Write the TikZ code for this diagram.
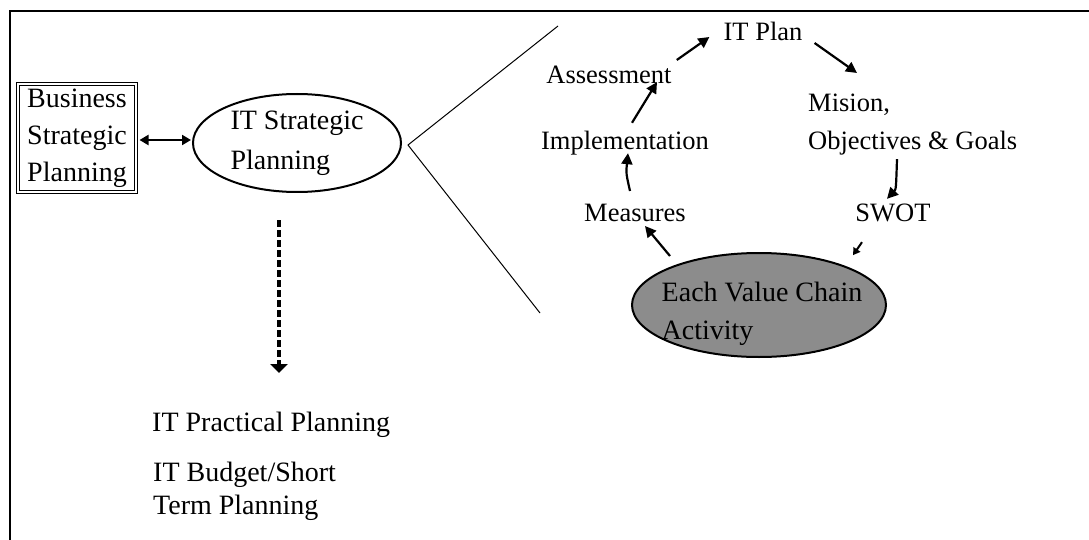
\documentclass[tikz,border=0pt]{standalone}
\usepackage{fontspec}
\setmainfont{Liberation Serif}
\usetikzlibrary{arrows.meta,calc,shapes.geometric}
\tikzset{
  lbl/.style={inner sep=0pt, font=\fontsize{28}{38}\selectfont},
  rlbl/.style={inner sep=0pt, font=\fontsize{26.5}{38}\selectfont},
  arr/.style={line width=2.2pt, -{Triangle[length=11pt,width=11pt]}},
  thinline/.style={line width=1pt},
}
\begin{document}
\begin{tikzpicture}[x=1pt,y=-1pt]
\useasboundingbox (0,0) rectangle (1089,540);
\fill[white] (0,0) rectangle (1089,540);
% frame
\draw[line width=1.5pt] (10,540) -- (10,11) -- (1089,11);

% left part
\node[draw, double, line width=1pt, double distance=1.5pt, minimum width=118, minimum height=108,
      align=center, inner sep=1pt, font=\fontsize{28}{37}\selectfont] (bsp) at (77,138)
  {Business\\Strategic\\Planning};
\node[draw, ellipse, line width=2pt, minimum width=208, minimum height=98, inner sep=0pt,
      align=left, font=\fontsize{28}{40}\selectfont] (itsp) at (297,143)
  {IT Strategic\\Planning};
\draw[line width=2pt, {Triangle[length=9pt,width=10pt]}-{Triangle[length=9pt,width=10pt]}]
  ($(bsp.east)+(3,2)$) -- ($(itsp.west)+(-1,-3)$);
\draw[line width=3.5pt, dash pattern=on 7pt off 3pt, -{Triangle[length=9pt,width=17pt]}]
  ($(itsp.south)+(-18,27)$) -- ($(itsp.south)+(-18,180)$) coordinate (dashend);

\node[lbl, anchor=west] (practical) at (152,425) {IT Practical Planning};
\node[lbl, anchor=north west, align=left, font=\fontsize{28}{33}\selectfont] (budget) at (153,462)
  {IT Budget/Short\\Term Planning};

% zoom lines
\coordinate (vtx) at (408,145);
\coordinate (upend) at (558,26);
\coordinate (lowend) at (540,313);
\draw[thinline] (upend) -- (vtx) -- (lowend);

% cycle
\node[rlbl] (itplan) at (763,31) {IT Plan};
\node[rlbl] (assess) at (609,75) {Assessment};
\node[rlbl] (impl) at (625,143) {Implementation};
\node[rlbl, anchor=west] (mision) at (808,105) {Mision,};
\node[rlbl, anchor=west] (obj) at (808,143) {Objectives \& Goals};
\node[rlbl] (measures) at (635,213) {Measures};
\node[rlbl] (swot) at (893,213) {SWOT};
\node[draw, ellipse, line width=2pt, fill=black!45, minimum width=254, minimum height=104,
      inner sep=0pt] (vcc) at (759,305) {};
\node[lbl, align=left, font=\fontsize{28}{38}\selectfont] (vcctext) at (762,314)
  {Each Value Chain\\Activity};

\draw[arr] ($(assess.east)+(5,-15)$) -- ($(itplan.west)+(-14,6)$);
\draw[arr] ($(itplan.east)+(12,12)$) -- ($(mision.north west)+(49,-21)$);
\draw[arr] ($(impl.north)+(7,-8)$) -- ($(assess.south)+(48,-2)$);
\draw[arr] ($(measures.north)+(-5,-13)$) .. controls ($(impl.south)+(1,18)$) .. ($(impl.south)+(3,-2)$);
\draw[arr] ($(obj.south west)+(89,4)$) .. controls ($(obj.south west)+(88,34)$) .. ($(swot.north)+(-6,-5)$);
\draw[line width=2pt, -{Triangle[length=7pt,width=8pt]}] ($(swot.south)+(-31,20)$) -- ($(swot.south)+(-40,33)$);
\draw[arr] ($(vcc.north)+(-89,4)$) -- ($(measures.south)+(10,4)$);
\end{tikzpicture}
\end{document}
